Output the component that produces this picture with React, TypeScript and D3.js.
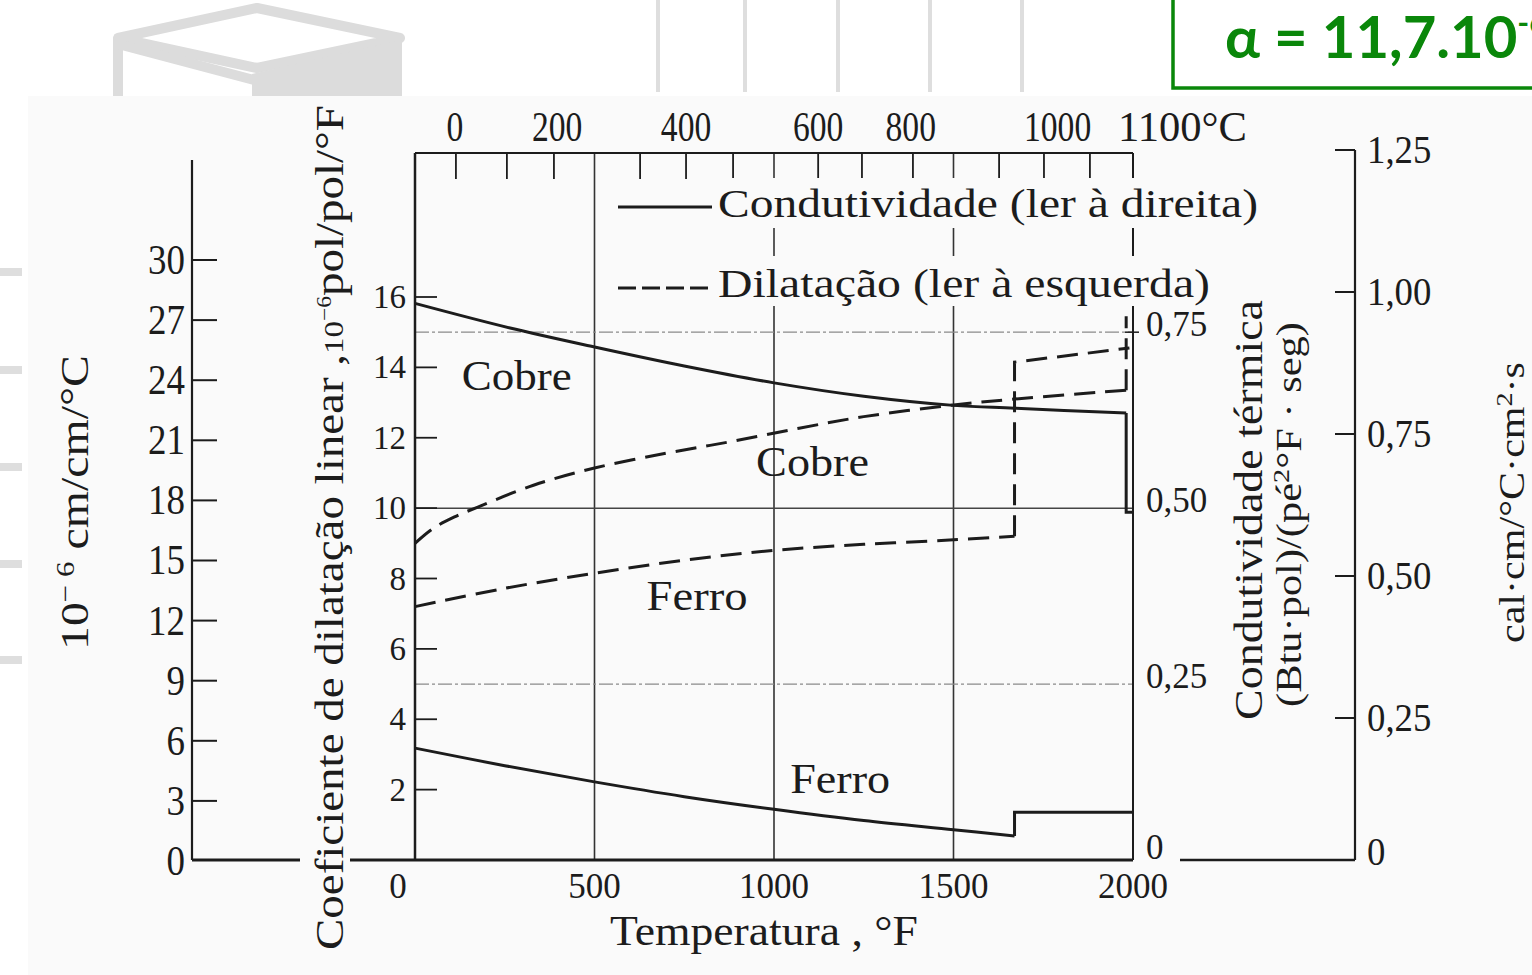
import React from 'react';
import * as d3 from 'd3';

// ---------- DATA ----------
// Thermal conductivity (Btu·in/(ft²·°F·s)) vs temperature (°F)
const cuCondF = [0, 265, 500, 750, 1000, 1250, 1500, 1670, 1981];
const cuCond = [0.791, 0.756, 0.729, 0.702, 0.678, 0.659, 0.646, 0.642, 0.635];
const cuCondMelt: [number, number][] = [[1981, 0.635], [1981, 0.494], [2000, 0.494]];

const feCondF = [0, 250, 500, 750, 1000, 1250, 1500, 1670];
const feCond = [0.159, 0.134, 0.111, 0.09, 0.072, 0.056, 0.043, 0.034];
const feCondStep: [number, number][] = [[1670, 0.034], [1670, 0.068], [2000, 0.068]];

// Linear expansion coefficient (10^-6 in/in/°F) vs temperature (°F)
const cuDilF = [0, 50, 110, 175, 330, 500, 700, 885, 1070, 1250, 1500, 1670, 1981];
const cuDil = [9.0, 9.42, 9.75, 10.03, 10.65, 11.14, 11.56, 11.9, 12.27, 12.6, 12.93, 13.1, 13.35];
const cuDilMelt: [number, number][] = [[1981, 13.35], [1981, 15.45]];

const feDilF = [0, 250, 500, 750, 1000, 1250, 1500, 1670];
const feDil = [7.2, 7.72, 8.15, 8.52, 8.8, 8.97, 9.1, 9.2];
const feDilStep: [number, number][] = [[1670, 9.2], [1670, 14.15], [1990, 14.55]];

// Axes
const bottomTicks = [0, 500, 1000, 1500, 2000];
const vGrid = [500, 1000, 1500];
const hGridDil = [5, 10, 15];
const leftInnerTicks = [2, 4, 6, 8, 10, 12, 14, 16];
const leftOuterTicks = [0, 3, 6, 9, 12, 15, 18, 21, 24, 27, 30];
const rightInnerTicks = [0, 0.25, 0.5, 0.75];
const rightOuterTicks = [0, 0.25, 0.5, 0.75, 1.0, 1.25];
// top °C scale: tick marks and labels expressed at their °F positions
const topTicksF = [114, 256, 387, 627, 755, 886, 1123, 1245, 1387, 1627, 1752, 1880];
const topLabels = ['0', '200', '400', '600', '800', '1000'];
const topLabelsF = [111, 396, 755, 1123, 1381, 1790];
const topLastLabel = '1100°C';
const topLastLabelF = 1958;

const labelsMat = [
  { text: 'Cobre', f: 130, v: 13.35, len: 110 },
  { text: 'Cobre', f: 950, v: 10.9, len: 113 },
  { text: 'Ferro', f: 645, v: 7.1, len: 101 },
  { text: 'Ferro', f: 1045, v: 1.9, len: 100 },
];

const SERIF = '"Liberation Serif", "Times New Roman", serif';

const fmtComma = (v: number) => (v === 0 ? '0' : d3.format('.2f')(v).replace('.', ','));

export default function App() {
  const W = 1532;
  const H = 975;
  const x = d3.scaleLinear().domain([0, 2000]).range([415, 1133]);
  const yDil = d3.scaleLinear().domain([0, 16]).range([860, 297]);
  const yCond = d3.scaleLinear().domain([0, 0.8]).range([860, 297]);
  const yDilC = d3.scaleLinear().domain([0, 30]).range([861, 260]);
  const yCal = d3.scaleLinear().domain([0, 1.25]).range([860, 150]);
  const top = 153;
  const bottom = yDil(0);
  const left = x(0);
  const right = x(2000);

  const smoothCond = d3.line<[number, number]>().x((d) => x(d[0])).y((d) => yCond(d[1])).curve(d3.curveCatmullRom.alpha(0.5));
  const straightCond = d3.line<[number, number]>().x((d) => x(d[0])).y((d) => yCond(d[1]));
  const smoothDil = d3.line<[number, number]>().x((d) => x(d[0])).y((d) => yDil(d[1])).curve(d3.curveCatmullRom.alpha(0.5));
  const straightDil = d3.line<[number, number]>().x((d) => x(d[0])).y((d) => yDil(d[1]));

  const zip = (a: number[], b: number[]) => a.map((v, i) => [v, b[i]] as [number, number]);

  const ink = '#1c1c1c';
  const bg = '#fafafa';
  const dash = '21,10';

  return (
    <svg width={W} height={H} style={{ position: 'absolute', left: 0, top: 0, background: '#fff' }}>
      {/* slide background decorations */}
      <g fill="none" stroke="#dcdcdc" strokeWidth={10} strokeLinejoin="round">
        <polygon points="118,38 257,8 400,38 257,68" />
        <line x1={118} y1={38} x2={118} y2={98} />
        <line x1={118} y1={44} x2={254} y2={80} />
      </g>
      <polygon points="252,74 402,40 402,98 252,98" fill="#dcdcdc" />
      {[658, 745, 838, 930, 1022].map((vx) => (
        <line key={vx} x1={vx} x2={vx} y1={0} y2={92} stroke="#dedede" strokeWidth={4} />
      ))}
      {[272, 370, 467, 564, 660].map((vy) => (
        <rect key={vy} x={0} y={vy - 4} width={22} height={8} fill="#dedede" />
      ))}
      <rect x={28} y={96} width={W - 28} height={H - 96} fill={bg} />

      {/* green box */}
      <rect x={1173} y={-10} width={400} height={98} fill="#fff" stroke="#0a870a" strokeWidth={3.5} />
      <text x={1225} y={58} fontFamily="Lato, 'Open Sans', sans-serif" fontWeight={700} fontSize={58} fill="#0a870a">
        α = 11,7.10<tspan fontSize={32} dy={-24}>-6</tspan>
      </text>

      {/* grid */}
      {vGrid.map((f) => (
        <line key={f} x1={x(f)} x2={x(f)} y1={top} y2={bottom} stroke="#333" strokeWidth={1.6} />
      ))}
      {hGridDil.map((v) => (
        <line
          key={v}
          x1={left}
          x2={right}
          y1={yDil(v)}
          y2={yDil(v)}
          stroke={v === 10 ? '#444' : '#8a8a8a'}
          strokeWidth={v === 10 ? 1.5 : 1.2}
          strokeDasharray={v === 10 ? undefined : '14,3,3,3'}
        />
      ))}

      {/* frame */}
      <line x1={left} x2={right} y1={top} y2={top} stroke={ink} strokeWidth={2} />
      <line x1={right} x2={right} y1={top} y2={bottom} stroke={ink} strokeWidth={2} />
      <line x1={left} x2={left} y1={top} y2={bottom} stroke={ink} strokeWidth={2.5} />
      <line x1={192} x2={right} y1={bottom} y2={bottom} stroke={ink} strokeWidth={3} />

      {/* top °C ticks */}
      {topTicksF.map((f) => (
        <line key={f} x1={x(f)} x2={x(f)} y1={top} y2={top + 26} stroke={ink} strokeWidth={1.8} />
      ))}
      {topLabels.map((t, i) => (
        <text key={t} x={x(topLabelsF[i])} y={141} textAnchor="middle" fontFamily={SERIF} fontSize={42} fill={ink}
          transform={`translate(${x(topLabelsF[i])},141) scale(0.8,1) translate(${-x(topLabelsF[i])},-141)`}>
          {t}
        </text>
      ))}
      <text x={x(topLastLabelF)} y={141} fontFamily={SERIF} fontSize={42} fill={ink} textLength={129} lengthAdjust="spacingAndGlyphs">
        {topLastLabel}
      </text>

      {/* legend */}
      <rect x={714} y={178} width={550} height={50} fill={bg} />
      <rect x={714} y={256} width={500} height={50} fill={bg} />
      <line x1={618} x2={712} y1={207} y2={207} stroke={ink} strokeWidth={2.8} />
      <text x={718} y={217} fontFamily={SERIF} fontSize={40} fill={ink} textLength={540} lengthAdjust="spacingAndGlyphs">
        Condutividade (ler à direita)
      </text>
      <line x1={618} x2={712} y1={288} y2={288} stroke={ink} strokeWidth={2.8} strokeDasharray="18,6" />
      <text x={718} y={297} fontFamily={SERIF} fontSize={40} fill={ink} textLength={492} lengthAdjust="spacingAndGlyphs">
        Dilatação (ler à esquerda)
      </text>

      {/* curves */}
      <g fill="none" stroke={ink} strokeWidth={3} strokeLinejoin="miter">
        <path d={smoothCond(zip(cuCondF, cuCond)) || ''} />
        <path d={straightCond(cuCondMelt) || ''} />
        <path d={smoothCond(zip(feCondF, feCond)) || ''} />
        <path d={straightCond(feCondStep) || ''} />
        <path d={smoothDil(zip(cuDilF, cuDil)) || ''} strokeDasharray={dash} />
        <path d={straightDil(cuDilMelt) || ''} strokeDasharray={dash} />
        <path d={smoothDil(zip(feDilF, feDil)) || ''} strokeDasharray={dash} />
        <path d={straightDil(feDilStep) || ''} strokeDasharray={dash} />
      </g>

      {/* material labels */}
      {labelsMat.map((l, i) => (
        <text key={i} x={x(l.f)} y={yDil(l.v)} fontFamily={SERIF} fontSize={42} fill={ink} textLength={l.len} lengthAdjust="spacingAndGlyphs">
          {l.text}
        </text>
      ))}

      {/* left inner axis */}
      {leftInnerTicks.map((v) => (
        <g key={v}>
          <line x1={left} x2={left + 22} y1={yDil(v)} y2={yDil(v)} stroke={ink} strokeWidth={1.8} />
          <text x={left - 9} y={yDil(v)} dy={11} textAnchor="end" fontFamily={SERIF} fontSize={33} fill={ink}>
            {v}
          </text>
        </g>
      ))}

      {/* left outer axis */}
      <line x1={192} x2={192} y1={160} y2={bottom} stroke={ink} strokeWidth={2.2} />
      {leftOuterTicks.map((v) => (
        <g key={v}>
          {v > 0 && <line x1={192} x2={217} y1={yDilC(v)} y2={yDilC(v)} stroke={ink} strokeWidth={2} />}
          <text x={185} y={yDilC(v)} dy={14} textAnchor="end" fontFamily={SERIF} fontSize={42} fill={ink}
            transform={`translate(185,${yDilC(v)}) scale(0.88,1) translate(-185,${-yDilC(v)})`}>
            {v}
          </text>
        </g>
      ))}

      {/* bottom axis */}
      {bottomTicks.map((f) => (
        <text key={f} x={x(f) - (f === 0 ? 17 : 0)} y={898} textAnchor="middle" fontFamily={SERIF} fontSize={35} fill={ink}>
          {f}
        </text>
      ))}
      <rect x={300} y={850} width={50} height={20} fill={bg} />
      <text x={610} y={945} fontFamily={SERIF} fontSize={42} fill={ink} textLength={308} lengthAdjust="spacingAndGlyphs">
        Temperatura , °F
      </text>

      {/* right inner axis */}
      {rightInnerTicks.map((v) => (
        <text key={v} x={right + 13} y={yCond(v)} dy={v === 0 ? -1 : 4} fontFamily={SERIF} fontSize={35} fill={ink}>
          {fmtComma(v)}
        </text>
      ))}
      <line x1={right - 8} x2={right + 6} y1={yCond(0.75)} y2={yCond(0.75)} stroke={ink} strokeWidth={1.5} />

      {/* far right axis */}
      <line x1={1180} x2={1355} y1={bottom} y2={bottom} stroke={ink} strokeWidth={2.5} />
      <line x1={1355} x2={1355} y1={yCal(1.25)} y2={bottom} stroke={ink} strokeWidth={2.2} />
      {rightOuterTicks.map((v) => (
        <g key={v}>
          {v > 0 && <line x1={1335} x2={1355} y1={yCal(v)} y2={yCal(v)} stroke={ink} strokeWidth={2} />}
          <text x={1367} y={yCal(v)} dy={v === 0 ? 5 : 13} fontFamily={SERIF} fontSize={40} fill={ink}
            transform={`translate(1367,${yCal(v)}) scale(0.92,1) translate(-1367,${-yCal(v)})`}>
            {fmtComma(v)}
          </text>
        </g>
      ))}

      {/* rotated axis titles */}
      <text transform="translate(88,650) rotate(-90)" fontFamily={SERIF} fontSize={40} fill={ink} textLength={295} lengthAdjust="spacingAndGlyphs">
        10<tspan fontSize={26} dy={-14}>− 6</tspan><tspan dy={14}>{'  '}cm/cm/°C</tspan>
      </text>
      <text transform="translate(343,950) rotate(-90)" fontFamily={SERIF} fontSize={40} fill={ink} textLength={845} lengthAdjust="spacingAndGlyphs">
        Coeficiente de dilatação linear ,<tspan fontSize={28}>10</tspan><tspan fontSize={20} dy={-12}>−6</tspan><tspan dy={12}>pol/pol/°F</tspan>
      </text>
      <text transform="translate(1262,720) rotate(-90)" fontFamily={SERIF} fontSize={40} fill={ink} textLength={420} lengthAdjust="spacingAndGlyphs">
        Condutividade  térmica
      </text>
      <text transform="translate(1301,707) rotate(-90)" fontFamily={SERIF} fontSize={36} fill={ink} textLength={385} lengthAdjust="spacingAndGlyphs">
        (Btu·pol)/(pé<tspan fontSize={24} dy={-12}>2</tspan><tspan dy={12}>°F · seg)</tspan>
      </text>
      <text transform="translate(1524,643) rotate(-90)" fontFamily={SERIF} fontSize={36} fill={ink} textLength={281} lengthAdjust="spacingAndGlyphs">
        cal·cm/°C·cm<tspan fontSize={24} dy={-12}>2</tspan><tspan dy={12}>·s</tspan>
      </text>
    </svg>
  );
}
